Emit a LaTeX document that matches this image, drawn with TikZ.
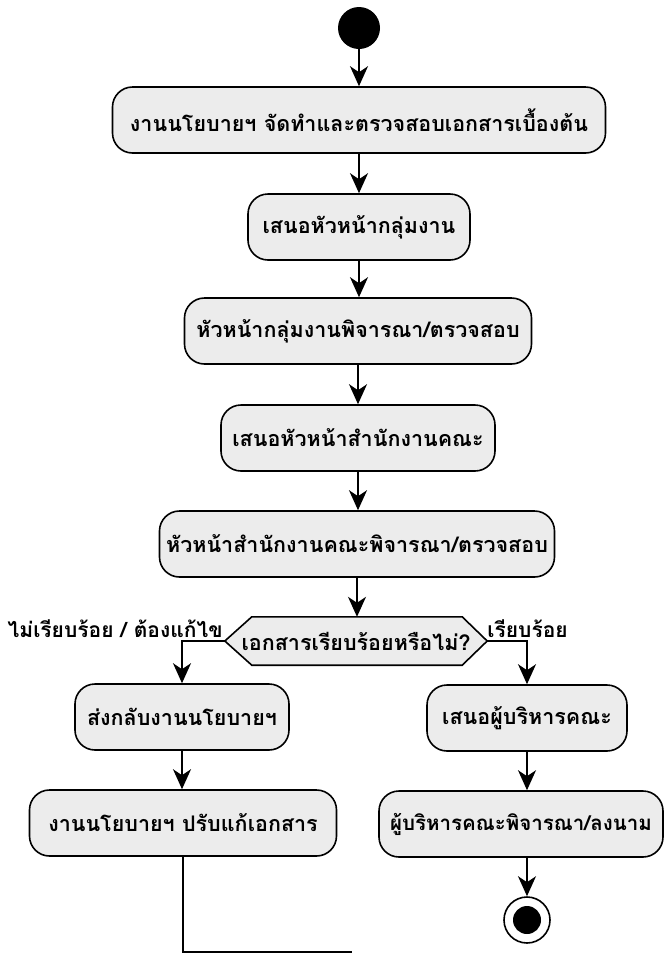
\documentclass[tikz,border=0pt]{standalone}
\usepackage{fontspec}
\newfontfamily\thaifont[Script=Thai]{Loma}
\usetikzlibrary{arrows.meta,calc}
\begin{document}
\begin{tikzpicture}[x=1pt,y=-1pt,
  act/.style={draw=black,line width=1.6pt,fill=gray!15,rounded corners=20pt,
    minimum height=66pt,inner sep=0pt,font=\thaifont\bfseries\fontsize{21.5}{24}\selectfont},
  lbl/.style={inner sep=0pt,font=\thaifont\bfseries\fontsize{21}{24}\selectfont},
  conn/.style={line width=1.6pt,-{Stealth[length=20pt,width=18pt,inset=6pt]}},
  plain/.style={line width=1.6pt}]
\useasboundingbox (0,0) rectangle (664,954);
\node[circle,fill=black,minimum size=42pt,inner sep=0pt] (start) at (359,28) {};
\node[act,minimum width=493pt] (b1) at (359,120) {งานนโยบายฯ จัดทำและตรวจสอบเอกสารเบื้องต้น};
\node[act,minimum width=222pt] (b2) at (359,227) {เสนอหัวหน้ากลุ่มงาน};
\node[act,minimum width=347pt] (b3) at (358,331) {หัวหน้ากลุ่มงานพิจารณา/ตรวจสอบ};
\node[act,minimum width=274pt] (b4) at (358,438) {เสนอหัวหน้าสำนักงานคณะ};
\node[act,minimum width=395pt] (b5) at (357,544) {หัวหน้าสำนักงานคณะพิจารณา/ตรวจสอบ};
\node[inner sep=0pt,minimum width=262pt,minimum height=48pt] (dec) at (356,641) {};
\fill[gray!15] (dec.west) -- ($(dec.north west)+(27,0)$) -- ($(dec.north east)+(-25,0)$) -- (dec.east)
  -- ($(dec.south east)+(-25,0)$) -- ($(dec.south west)+(27,0)$) -- cycle;
\draw[plain,line join=miter] (dec.west) -- ($(dec.north west)+(27,0)$) -- ($(dec.north east)+(-25,0)$) -- (dec.east)
  -- ($(dec.south east)+(-25,0)$) -- ($(dec.south west)+(27,0)$) -- cycle;
\node[font=\thaifont\bfseries\fontsize{21.5}{24}\selectfont,inner sep=0pt] (dectext) at (dec.center) {เอกสารเรียบร้อยหรือไม่?};
\node[act,minimum width=214pt] (b6) at (182,717) {ส่งกลับงานนโยบายฯ};
\node[act,minimum width=307pt] (b7) at (183,823) {งานนโยบายฯ ปรับแก้เอกสาร};
\node[act,minimum width=200pt] (b8) at (527,718) {เสนอผู้บริหารคณะ};
\node[act,minimum width=284pt,font=\thaifont\bfseries\fontsize{20.5}{24}\selectfont] (b9) at (521,824) {ผู้บริหารคณะพิจารณา/ลงนาม};
\node[circle,draw=black,line width=1.6pt,fill=white,minimum size=46pt,inner sep=0pt] (end) at (527,920) {};
\node[circle,fill=black,minimum size=28pt,inner sep=0pt] (endin) at (end.center) {};
\node[lbl,anchor=south east] (lno) at ($(dec.west)+(-2,-3)$) {ไม่เรียบร้อย / ต้องแก้ไข};
\node[lbl,anchor=south west] (lyes) at ($(dec.east)+(0,-3)$) {เรียบร้อย};
\coordinate (back) at (352,952);
\draw[conn] (start.south) -- (start.south |- b1.north);
\draw[conn] (b1.south) -- (b1.south |- b2.north);
\draw[conn] (b2.south) -- (b2.south |- b3.north);
\draw[conn] (b3.south) -- (b3.south |- b4.north);
\draw[conn] (b4.south) -- (b4.south |- b5.north);
\draw[conn] (b5.south) -- (b5.south |- dec.north);
\draw[conn] (dec.west) -| (b6.north);
\draw[conn] (dec.east) -| (b8.north);
\draw[conn] (b6.south) -- (b6.south |- b7.north);
\draw[conn] (b8.south) -- (b8.south |- b9.north);
\draw[conn] (b8.south |- b9.south) -- (end.north);
\draw[plain] (b7.south) |- (back);
\end{tikzpicture}
\end{document}
